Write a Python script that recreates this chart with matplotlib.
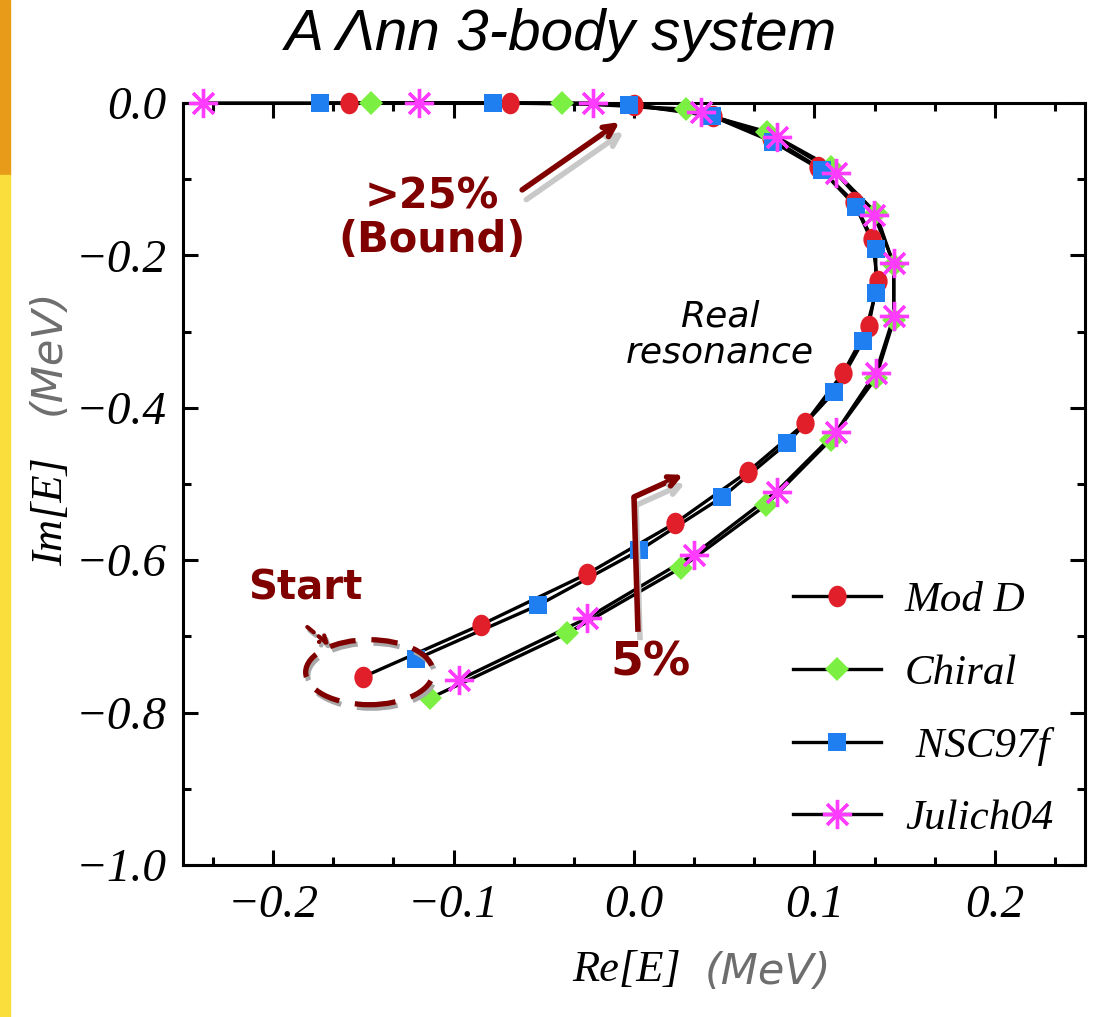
import matplotlib
matplotlib.use('Agg')
import matplotlib.pyplot as plt
import matplotlib.patheffects as pe
from matplotlib.patches import Ellipse, Rectangle
from matplotlib.path import Path
from matplotlib.ticker import MultipleLocator, AutoMinorLocator
import numpy as np

# ---------------- data (Re[E], Im[E] in MeV) ----------------
modd_re = [-0.150, -0.085, -0.026, 0.023, 0.063, 0.095, 0.116, 0.130, 0.135,
           0.132, 0.122, 0.102, 0.076, 0.044, 0.000, -0.069, -0.158]
modd_im = [-0.753, -0.685, -0.618, -0.551, -0.484, -0.420, -0.354, -0.293, -0.234,
           -0.178, -0.130, -0.084, -0.046, -0.017, -0.002, 0.0, 0.0]

chiral_re = [-0.113, -0.037, 0.026, 0.073, 0.109, 0.134, 0.144, 0.144, 0.134,
             0.109, 0.074, 0.029, -0.040, -0.146]
chiral_im = [-0.781, -0.696, -0.610, -0.528, -0.442, -0.361, -0.285, -0.213, -0.144,
             -0.084, -0.038, -0.008, 0.0, 0.0]

nsc_re = [-0.121, -0.053, 0.003, 0.049, 0.085, 0.111, 0.127, 0.134, 0.134,
          0.123, 0.104, 0.077, 0.043, -0.003, -0.078, -0.174]
nsc_im = [-0.730, -0.659, -0.587, -0.517, -0.446, -0.379, -0.312, -0.249, -0.192,
          -0.136, -0.088, -0.051, -0.017, -0.002, 0.0, 0.0]

julich_re = [-0.097, -0.026, 0.033, 0.079, 0.112, 0.134, 0.144, 0.144, 0.133,
             0.112, 0.079, 0.037, -0.023, -0.119, -0.239]
julich_im = [-0.757, -0.676, -0.593, -0.510, -0.432, -0.354, -0.280, -0.210, -0.147,
             -0.092, -0.045, -0.012, 0.0, 0.0, 0.0]

labels = ['Mod D', 'Chiral', ' NSC97f', 'Julich04']

# ---------------- figure ----------------
W, H = 1107, 1017
fig = plt.figure(figsize=(W / 100, H / 100), dpi=100)
fig.patch.set_facecolor('white')

# left decorative strip
fig.patches.append(Rectangle((0, 1 - 175 / H), 10 / W, 175 / H, transform=fig.transFigure,
                             color='#E79B18', zorder=0))
fig.patches.append(Rectangle((0, 0), 10 / W, 1 - 175 / H, transform=fig.transFigure,
                             color='#F9DE3C', zorder=0))

ax = fig.add_axes([183 / W, 1 - 865 / H, (1085 - 183) / W, (865 - 103) / H])
ax.set_xlim(-0.25, 0.25)
ax.set_ylim(-1.0, 0.0)

# ellipse marker for Mod D (slightly taller than wide)
uc = Path.unit_circle()
oval = Path(uc.vertices * np.array([0.85, 1.0]), uc.codes)

styles = [
    dict(marker=oval, ms=15.5, mfc='#e11f2a', mec='#e11f2a', mew=0),
    dict(marker='D', ms=12.5, mfc='#7cf042', mec='#7cf042', mew=0),
    dict(marker='s', ms=13, mfc='#1f7ff0', mec='#1f7ff0', mew=0),
    dict(marker=(8, 2, 0), ms=21, mfc='#ff3cff', mec='#ff3cff', mew=2.4),
]
series = [(modd_re, modd_im), (chiral_re, chiral_im), (nsc_re, nsc_im), (julich_re, julich_im)]

handles = []
for (xs, ys), st, lab in zip(series, styles, labels):
    ax.plot(xs, ys, color='black', lw=2.4, zorder=2, clip_on=False)
    h, = ax.plot([], [], color='black', lw=2.4, label=lab, **st)
    handles.append(h)
for (xs, ys), st in zip(series, styles):
    ax.plot(xs, ys, ls='none', zorder=3, clip_on=False, **st)

# ticks
ax.xaxis.set_major_locator(MultipleLocator(0.1))
ax.xaxis.set_minor_locator(AutoMinorLocator(3))
ax.yaxis.set_major_locator(MultipleLocator(0.2))
ax.yaxis.set_minor_locator(AutoMinorLocator(2))
ax.tick_params(which='both', direction='in', top=True, right=True, width=2.2, color='black')
ax.tick_params(which='major', length=11)
ax.tick_params(which='minor', length=6)
ax.tick_params(axis='x', pad=14)
ax.tick_params(axis='y', pad=12)
for lab in ax.get_xticklabels() + ax.get_yticklabels():
    lab.set_family('Liberation Serif')
    lab.set_style('italic')
    lab.set_fontsize(34)
for s in ax.spines.values():
    s.set_linewidth(2.2)

# legend
leg = ax.legend(handles=handles, loc='upper left', bbox_to_anchor=(793 / W, 1 - 581 / H),
                bbox_transform=fig.transFigure, frameon=False, numpoints=1,
                prop=dict(family='Liberation Serif', style='italic', size=31),
                handlelength=2.05, handletextpad=0.55, labelspacing=0.78,
                borderpad=0, borderaxespad=0)

# annotations
dred = '#800000'
shadow_arrow = [pe.SimpleLineShadow(offset=(3, -7), shadow_color='#c8c8c8', alpha=1.0), pe.Normal()]
shadow_small = [pe.SimpleLineShadow(offset=(1.5, -2.5), shadow_color='#a8a8a8', alpha=1.0), pe.Normal()]

ax.text(-0.112, -0.151, '>25%\n(Bound)', ha='center', va='center', color=dred,
        fontsize=30, fontweight='bold', family='DejaVu Sans', linespacing=1.05)
a1 = ax.annotate('', xy=(-0.008, -0.025), xytext=(-0.062, -0.114),
                 arrowprops=dict(arrowstyle='->,head_length=0.8,head_width=0.4', color=dred,
                                 lw=4, shrinkA=0, shrinkB=0))
a1.arrow_patch.set_path_effects(shadow_arrow)

ax.text(0.0478, -0.304, 'Real\nresonance', ha='center', va='center', color='black',
        fontsize=26, style='italic', family='DejaVu Sans', linespacing=1.1)

ax.text(-0.182, -0.637, 'Start', ha='center', va='center', color=dred,
        fontsize=29, fontweight='bold', family='DejaVu Sans')
ell = Ellipse((-0.1467, -0.747), 0.0706, 0.0853, fill=False, ec=dred, lw=3.8,
              ls=(0, (5, 3)), zorder=4)
ax.add_patch(ell)
ell.set_path_effects(shadow_small)
a2 = ax.annotate('', xy=(-0.1689, -0.7113), xytext=(-0.1811, -0.6877),
                 arrowprops=dict(arrowstyle='->,head_length=0.45,head_width=0.3', color=dred,
                                 lw=3, shrinkA=0, shrinkB=0, ls=(0, (2, 1.5))))
a2.arrow_patch.set_path_effects(shadow_small)

ax.text(0.0089, -0.735, '5%', ha='center', va='center', color=dred,
        fontsize=34, fontweight='bold', family='DejaVu Sans')
shadow5 = [pe.SimpleLineShadow(offset=(1.5, -6), shadow_color='#c8c8c8', alpha=1.0), pe.Normal()]
ax.plot([0.0022, 0.0], [-0.694, -0.517], color=dred, lw=4, zorder=4,
        solid_capstyle='butt', path_effects=shadow5)
a3 = ax.annotate('', xy=(0.0272, -0.488), xytext=(0.0, -0.517),
                 arrowprops=dict(arrowstyle='->,head_length=0.7,head_width=0.35', color=dred,
                                 lw=4, shrinkA=0, shrinkB=0))
a3.arrow_patch.set_path_effects(shadow5)

# titles / axis labels
fig.text(561 / W, 1 - 35 / H, 'A Λnn 3-body system', ha='center', va='center',
         family='Liberation Sans', style='italic', fontsize=42)
fig.text(681 / W, 1 - 970 / H, 'Re[E]', ha='right', va='center',
         family='Liberation Serif', style='italic', fontsize=32)
fig.text(705 / W, 1 - 972 / H, '(MeV)', ha='left', va='center',
         family='DejaVu Sans', style='italic', color='#6e6e6e', fontsize=31)
fig.text(51 / W, 1 - 566 / H, 'Im[E]', ha='center', va='bottom', rotation=90,
         family='Liberation Serif', style='italic', fontsize=32)
fig.text(48 / W, 1 - 415 / H, '(MeV)', ha='center', va='bottom', rotation=90,
         family='DejaVu Sans', style='italic', color='#6e6e6e', fontsize=31)

fig.savefig('out.png', dpi=100)
